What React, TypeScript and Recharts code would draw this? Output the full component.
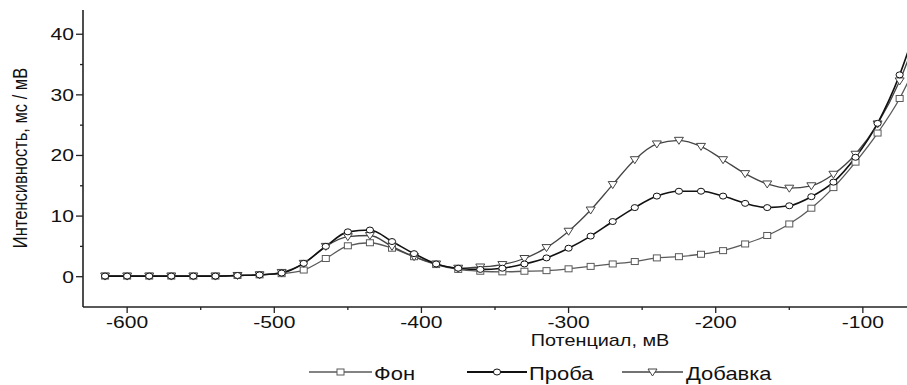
import React from 'react';
import { LineChart, Line, XAxis, YAxis, Legend } from 'recharts';

// potential, mV (markers every 15 mV; last point lies past the right edge)
const potential = [
  -615, -600, -585, -570, -555, -540, -525, -510, -495, -480, -465, -450, -435,
  -420, -405, -390, -375, -360, -345, -330, -315, -300, -285, -270, -255, -240,
  -225, -210, -195, -180, -165, -150, -135, -120, -105, -90, -75, -60,
];

const fon = [
  0.1, 0.1, 0.1, 0.1, 0.1, 0.1, 0.2, 0.3, 0.5, 1.1, 3.0, 5.1, 5.6,
  4.7, 3.3, 2.0, 1.2, 0.9, 0.8, 0.9, 1.0, 1.3, 1.7, 2.1, 2.5, 3.1,
  3.3, 3.7, 4.3, 5.4, 6.8, 8.7, 11.3, 14.7, 18.9, 23.7, 29.4, 37,
];

const proba = [
  0.1, 0.1, 0.1, 0.1, 0.1, 0.1, 0.2, 0.3, 0.6, 2.2, 5.0, 7.4, 7.7,
  5.8, 3.8, 2.1, 1.4, 1.2, 1.4, 2.1, 3.1, 4.7, 6.7, 9.1, 11.4, 13.3,
  14.1, 14.1, 13.3, 12.1, 11.4, 11.7, 13.2, 15.6, 19.7, 25.3, 33.3, 44,
];

const dobavka = [
  0.1, 0.1, 0.1, 0.1, 0.1, 0.1, 0.2, 0.3, 0.7, 2.2, 5.0, 6.6, 6.8,
  5.0, 3.3, 2.1, 1.4, 1.6, 2.0, 3.0, 4.8, 7.5, 11.0, 15.2, 19.3, 21.9,
  22.5, 21.5, 19.3, 17.0, 15.3, 14.6, 15.0, 16.9, 20.2, 25.2, 32.3, 42,
];

const xTicks = [-600, -550, -500, -450, -400, -350, -300, -250, -200, -150, -100];
const yTicks = [0, 5, 10, 15, 20, 25, 30, 35, 40];

const seriesNames = ['Фон', 'Проба', 'Добавка'];

const data = potential.map((p, i) => ({
  p,
  fon: fon[i],
  proba: proba[i],
  dobavka: dobavka[i],
}));

const FONT = '"Liberation Sans", Arial, sans-serif';
const STRETCH = 1.24; // source image text looks horizontally stretched

const COLORS = { fon: '#5a5a5a', proba: '#111111', dobavka: '#444444' };

const XTick = (props: any) => {
  const { x, y, payload } = props;
  const v = payload.value;
  const major = v % 100 === 0;
  return (
    <g>
      <line x1={x} x2={x} y1={y} y2={y + (major ? 6 : 3)} stroke="#222" strokeWidth={1.3} />
      {major && (
        <text
          transform={`translate(${x},${y + 21}) scale(${STRETCH},1)`}
          textAnchor="middle"
          fontSize={17}
          fontFamily={FONT}
          fill="#111"
        >
          {v}
        </text>
      )}
    </g>
  );
};

const YTick = (props: any) => {
  const { x, y, payload } = props;
  const v = payload.value;
  const major = v % 10 === 0;
  return (
    <g>
      <line x1={x - (major ? 7 : 3)} x2={x} y1={y} y2={y} stroke="#222" strokeWidth={1.3} />
      {major && (
        <text
          transform={`translate(${x - 9},${y + 6}) scale(${STRETCH},1)`}
          textAnchor="end"
          fontSize={17}
          fontFamily={FONT}
          fill="#111"
        >
          {v}
        </text>
      )}
    </g>
  );
};

const squareDot = (color: string) => (props: any) => {
  const { cx, cy, index } = props;
  if (cx == null || cy == null) return <g key={`s-${index}`} />;
  return (
    <rect key={`s-${index}`} x={cx - 3.5} y={cy - 3} width={7} height={6} fill="#fff" stroke={color} strokeWidth={1} />
  );
};

const circleDot = (color: string) => (props: any) => {
  const { cx, cy, index } = props;
  if (cx == null || cy == null) return <g key={`c-${index}`} />;
  return <ellipse key={`c-${index}`} cx={cx} cy={cy} rx={3.6} ry={3} fill="#fff" stroke={color} strokeWidth={1} />;
};

const triangleDot = (color: string) => (props: any) => {
  const { cx, cy, index } = props;
  if (cx == null || cy == null) return <g key={`t-${index}`} />;
  return (
    <polygon
      key={`t-${index}`}
      points={`${cx - 4.5},${cy - 3} ${cx + 4.5},${cy - 3} ${cx},${cy + 4}`}
      fill="#fff"
      stroke={color}
      strokeWidth={1}
    />
  );
};

const renderLegend = () => {
  const items = [
    { name: seriesNames[0], x1: 309, x2: 372, tx: 374, color: COLORS.fon, w: 1.3, marker: 'square' },
    { name: seriesNames[1], x1: 467, x2: 527, tx: 529, color: COLORS.proba, w: 1.8, marker: 'circle' },
    { name: seriesNames[2], x1: 622, x2: 683, tx: 686, color: COLORS.dobavka, w: 1.3, marker: 'triangle' },
  ];
  const cy = 22;
  return (
    <svg width={907} height={35}>
      {items.map((it) => {
        const mx = (it.x1 + it.x2) / 2;
        return (
          <g key={it.name}>
            <line x1={it.x1} x2={it.x2} y1={cy} y2={cy} stroke={it.color} strokeWidth={it.w} />
            {it.marker === 'square' && (
              <rect x={mx - 3.5} y={cy - 3} width={7} height={6} fill="#fff" stroke={it.color} />
            )}
            {it.marker === 'circle' && <ellipse cx={mx} cy={cy} rx={3.6} ry={3} fill="#fff" stroke={it.color} />}
            {it.marker === 'triangle' && (
              <polygon
                points={`${mx - 4.5},${cy - 3} ${mx + 4.5},${cy - 3} ${mx},${cy + 4}`}
                fill="#fff"
                stroke={it.color}
              />
            )}
            <text
              transform={`translate(${it.tx},${cy + 8}) scale(1.22,1)`}
              fontSize={18}
              fontFamily={FONT}
              fill="#111"
            >
              {it.name}
            </text>
          </g>
        );
      })}
    </svg>
  );
};

export default function App() {
  return (
    <div style={{ position: 'absolute', left: 0, top: 0, width: 907, height: 385, background: '#fff' }}>
      <LineChart width={907} height={385} data={data} margin={{ top: 10, right: 0, bottom: 48, left: 0 }}>
        <XAxis
          dataKey="p"
          type="number"
          domain={[-630, -70]}
          allowDataOverflow
          ticks={xTicks}
          interval={0}
          height={30}
          tickSize={0}
          tickMargin={0}
          tickLine={false}
          tick={<XTick />}
          axisLine={{ stroke: '#222', strokeWidth: 1.6 }}
          label={{
            content: () => (
              <text
                transform={`translate(600,346) scale(${STRETCH},1)`}
                textAnchor="middle"
                fontSize={16}
                fontFamily={FONT}
                fill="#111"
              >
                Потенциал, мВ
              </text>
            ),
          }}
        />
        <YAxis
          type="number"
          domain={[-5, 44]}
          allowDataOverflow
          ticks={yTicks}
          interval={0}
          width={83}
          tickSize={0}
          tickMargin={0}
          tickLine={false}
          tick={<YTick />}
          axisLine={{ stroke: '#222', strokeWidth: 1.6 }}
          label={{
            content: () => (
              <text
                transform={`translate(27,158) scale(${STRETCH},1) rotate(-90)`}
                textAnchor="middle"
                fontSize={16.5}
                fontFamily={FONT}
                fill="#111"
              >
                Интенсивность, мс / мВ
              </text>
            ),
          }}
        />
        <Legend
          layout="vertical"
          align="center"
          verticalAlign="middle"
          content={renderLegend}
          wrapperStyle={{ position: 'absolute', left: 0, top: 350, width: 907, height: 35 }}
        />
        <Line
          type="monotone"
          dataKey="fon"
          name={seriesNames[0]}
          stroke={COLORS.fon}
          strokeWidth={1.3}
          dot={squareDot(COLORS.fon)}
          isAnimationActive={false}
        />
        <Line
          type="monotone"
          dataKey="dobavka"
          name={seriesNames[2]}
          stroke={COLORS.dobavka}
          strokeWidth={1.3}
          dot={triangleDot(COLORS.dobavka)}
          isAnimationActive={false}
        />
        <Line
          type="monotone"
          dataKey="proba"
          name={seriesNames[1]}
          stroke={COLORS.proba}
          strokeWidth={1.6}
          dot={circleDot(COLORS.proba)}
          isAnimationActive={false}
        />
      </LineChart>
    </div>
  );
}
